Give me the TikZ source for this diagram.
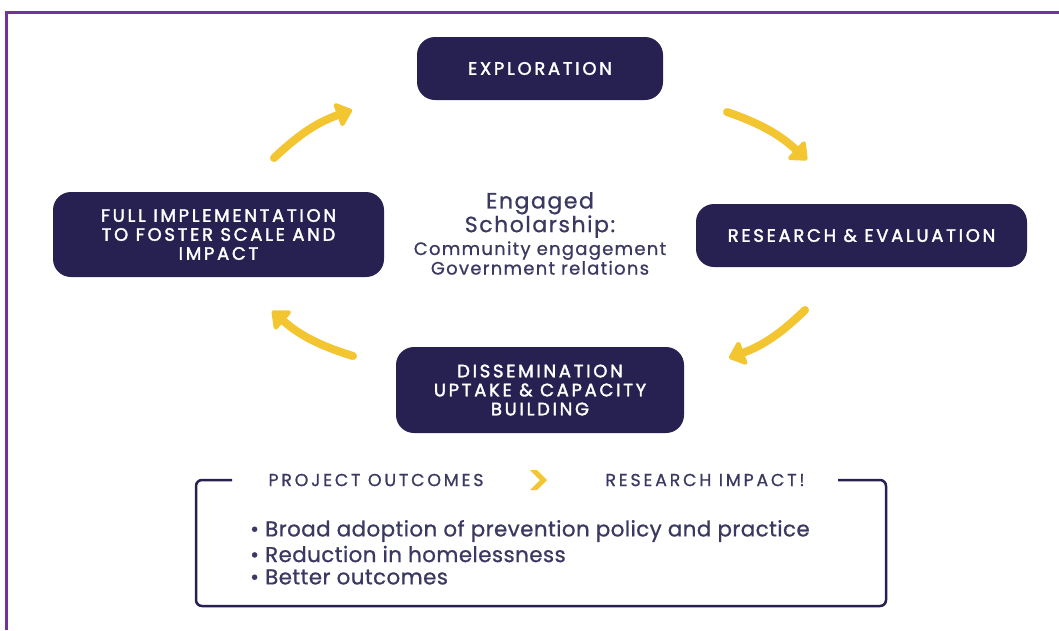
\documentclass[tikz,border=0pt]{standalone}
\usepackage{fontspec}
\setmainfont{Poppins}
\usetikzlibrary{arrows.meta}
\definecolor{navy}{HTML}{262150}
\definecolor{inkc}{HTML}{3B3961}
\definecolor{sun}{HTML}{F2C531}
\definecolor{frame}{HTML}{7232A0}
\newfontfamily\capsfont[LetterSpace=15,FakeBold=2]{Poppins}
\newfontfamily\labelfont[LetterSpace=16,FakeBold=0.8]{Poppins}
\newfontfamily\spacedfont[LetterSpace=7,FakeBold=0.8]{Poppins}
\newfontfamily\listfont[LetterSpace=2,FakeBold=0.8]{Poppins}
\begin{document}
\begin{tikzpicture}[x=1pt,y=-1pt,
  stage/.style={draw=none, fill=navy, rounded corners=18pt, text=white,
    align=center, inner sep=0pt,
    font=\capsfont\fontsize{18}{19}\selectfont},
  cyclearrow/.style={draw=sun, line width=8pt, line cap=round,
    -{Triangle[length=17pt,width=28pt,round]}},
  outlabel/.style={text=inkc, font=\labelfont\fontsize{17.4}{18}\selectfont, inner sep=0pt},
  bullet/.style={text=inkc, font=\listfont\fontsize{21.4}{23}\selectfont, anchor=west, inner sep=0pt}
]
\useasboundingbox (0,0) rectangle (1059,630);
\fill[white] (0,0) rectangle (1059,630);

% purple page frame (top and left edges)
\draw[frame, line width=3pt] (6.5,630) -- (6.5,12.5) -- (1059,12.5);

% stages of the cycle
\node[stage, minimum width=246pt, minimum height=63pt] (explore) at (540,68.5) {EXPLORATION};
\node[stage, minimum width=331pt, minimum height=63pt] (research) at (861.5,235.5) {RESEARCH \& EVALUATION};
\node[stage, minimum width=288pt, minimum height=86pt] (dissem) at (540,390) {DISSEMINATION\\UPTAKE \& CAPACITY\\BUILDING};
\node[stage, minimum width=331pt, minimum height=85pt] (full) at (218.5,234.5) {FULL IMPLEMENTATION\\TO FOSTER SCALE AND\\IMPACT};

% centre text
\node[text=inkc, align=center, inner sep=0pt, font=\spacedfont\fontsize{22}{21}\selectfont] (engaged) at (540,215) {Engaged\\Scholarship:};
\node[text=inkc, align=center, inner sep=0pt, font=\spacedfont\fontsize{18}{18}\selectfont] (roles) at (540,258) {Community engagement\\Government relations};

% yellow cycle arrows
\coordinate (a1s) at (274,158); \coordinate (a1e) at (352,110);
\coordinate (a2s) at (727,112); \coordinate (a2e) at (807,160);
\coordinate (a3s) at (805,310); \coordinate (a3e) at (729,358);
\coordinate (a4s) at (353,356); \coordinate (a4e) at (272,311);
\draw[cyclearrow] (a1s) to[bend left=12] (a1e);
\draw[cyclearrow] (a2s) to[bend left=12] (a2e);
\draw[cyclearrow] (a3s) to[bend left=12] (a3e);
\draw[cyclearrow] (a4s) to[bend left=12] (a4e);

% outcomes panel
\node[outlabel] (proj) at (376,480) {PROJECT OUTCOMES};
\node[outlabel] (impact) at (705,480) {RESEARCH IMPACT!};
\node[inner sep=0pt] (chev) at (540,480) {};
\fill[sun] (530,470) -- (537,470) -- (547,480) -- (537,490) -- (530,490) -- (540,480) -- cycle;
\draw[navy, line width=2.5pt, rounded corners=6pt]
  (232,480) -- (196,480) -- (196,606) -- (886,606) -- (886,480) -- (838,480);

\node[bullet] (b1) at (250,531) {• Broad adoption of prevention policy and practice};
\node[bullet] (b2) at (250,554) {• Reduction in homelessness};
\node[bullet] (b3) at (250,577) {• Better outcomes};
\end{tikzpicture}
\end{document}
